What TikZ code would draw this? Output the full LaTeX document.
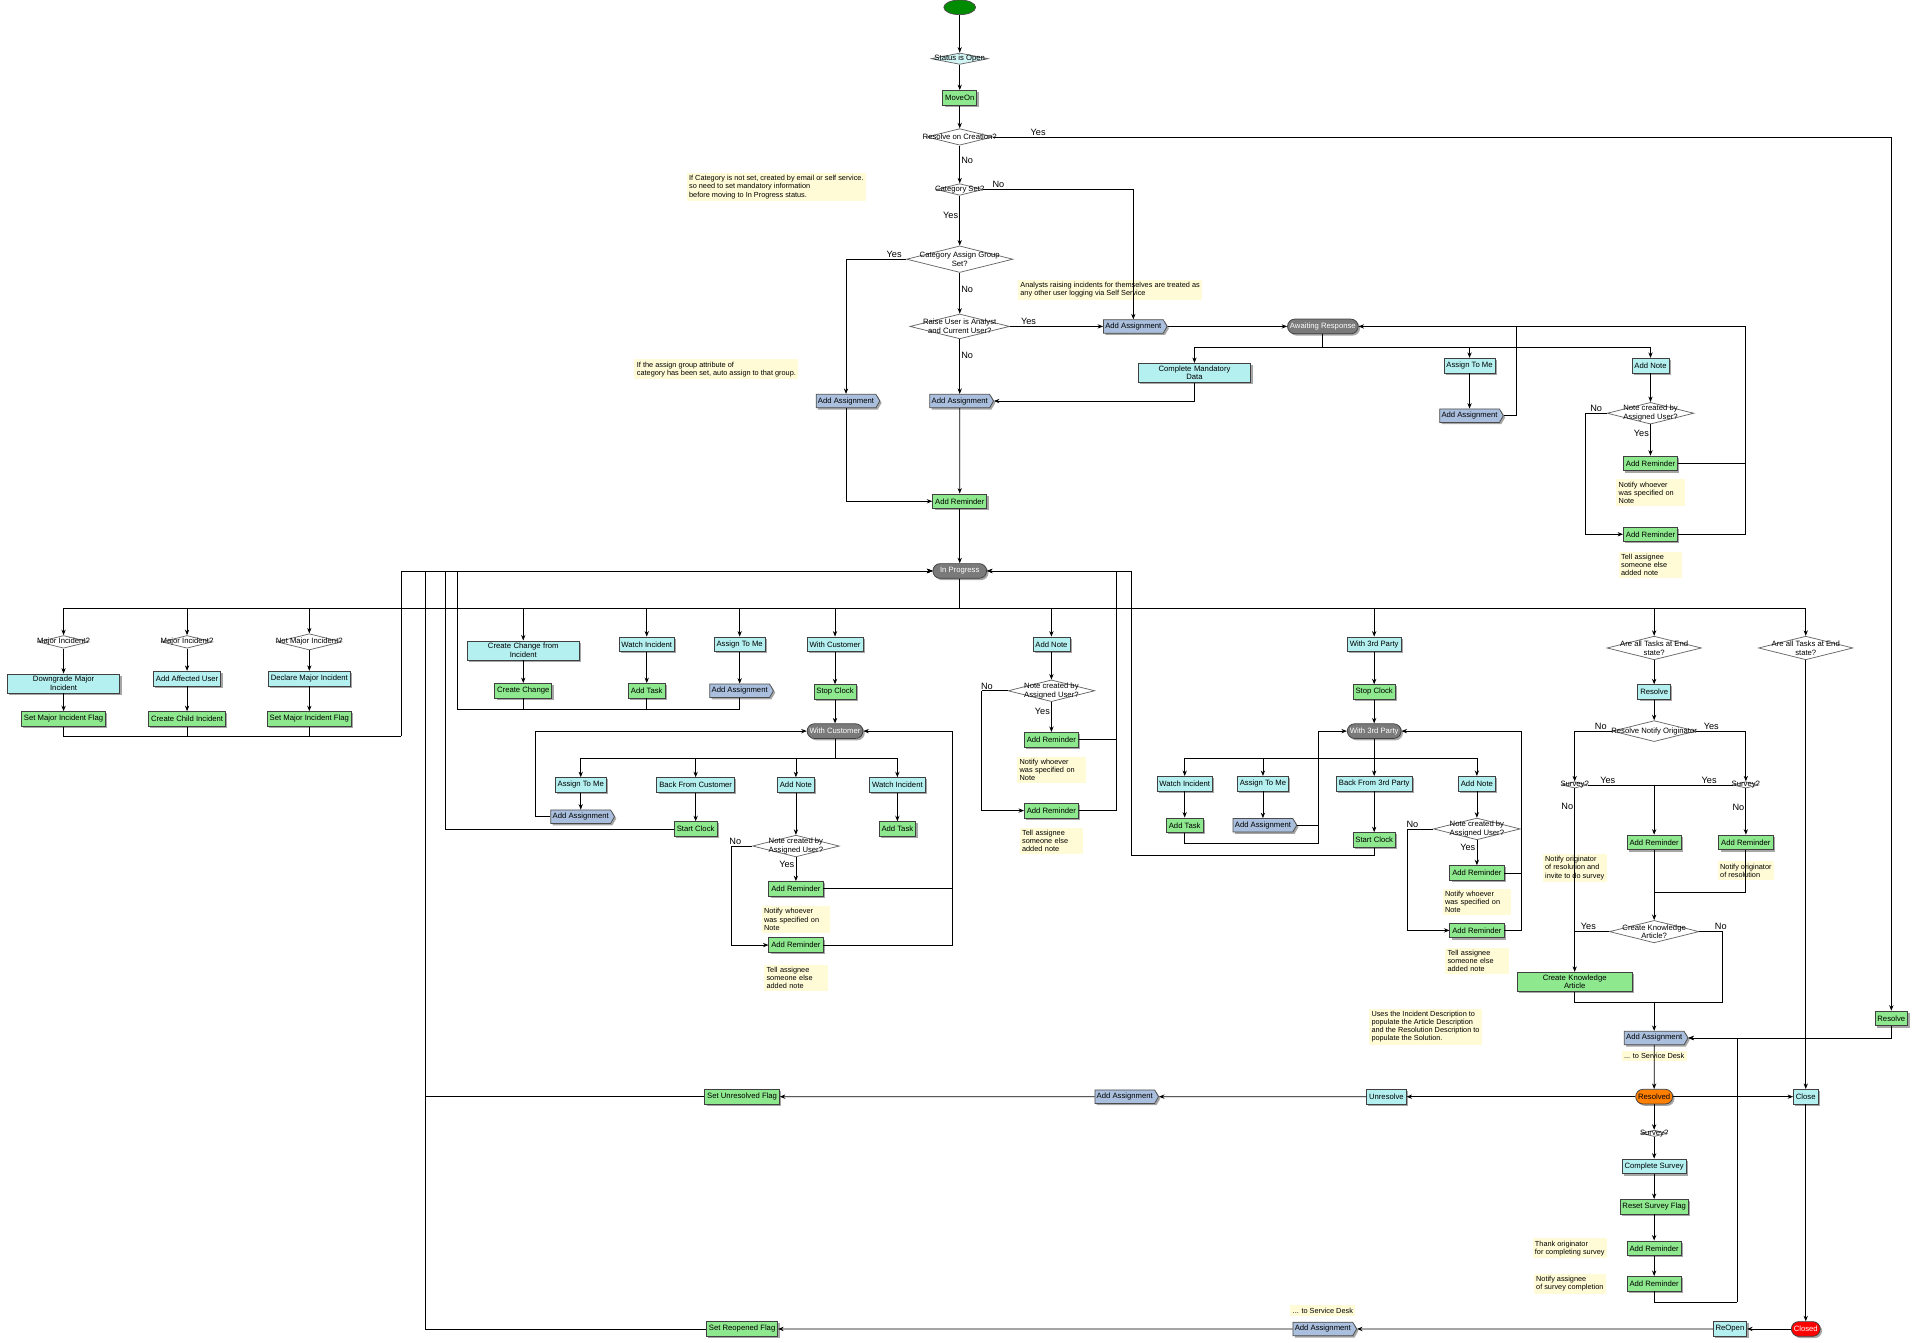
\documentclass[tikz,border=0pt]{standalone}
\usepackage{fontspec}
\setmainfont{Liberation Sans}
\usetikzlibrary{shapes.geometric,shapes.symbols,arrows.meta,shadows}
\definecolor{gfill}{HTML}{8EE88E}
\definecolor{cfill}{HTML}{B4F0F0}
\definecolor{nfill}{HTML}{FFFBD6}
\definecolor{afill}{HTML}{A9BFDD}
\definecolor{sfill}{HTML}{7A7A7A}
\begin{document}
\begin{tikzpicture}[x=1pt,y=-1pt,font=\fontsize{6.3}{7}\selectfont,
  >={Stealth[length=4.5pt,width=3.5pt]}, line width=0.6pt,
  box/.style={draw=black!75,minimum height=12,inner sep=2pt,align=center,
    drop shadow={shadow xshift=1.5pt,shadow yshift=-1.5pt,opacity=.35,fill=black}},
  g/.style={box,fill=gfill},
  c/.style={box,fill=cfill},
  st/.style={box,rounded corners=6,fill=sfill,text=white,minimum width=44},
  dec/.style={diamond,aspect=4,draw=black!60,fill=white,inner sep=-2.5pt,align=center},
  aa/.style={signal,signal to=east,signal pointer angle=120,draw=black!70,fill=afill,inner sep=1.5pt,minimum height=11,
    drop shadow={shadow xshift=1.5pt,shadow yshift=-1.5pt,opacity=.35,fill=black}},
  nt/.style={fill=nfill,inner sep=2pt,align=left,font=\fontsize{6}{6.6}\selectfont},
  lb/.style={font=\fontsize{7.5}{8}\selectfont,inner sep=1pt}]
\useasboundingbox (0,0) rectangle (1568,1098);

% ---------- top ----------
\node[draw=black!70,fill=green!55!black,ellipse,minimum width=26,minimum height=12] (start) at (785,6) {};
\node[diamond,aspect=5,draw=black!60,fill=cfill!60,inner sep=-2pt] (open) at (785,48) {Status is Open};
\node[g] (moveon) at (785,80) {MoveOn};
\node[dec] (rc) at (785,112) {Resolve on Creation?};
\node[dec] (cs) at (785,155) {Category Set?};
\node[dec] (cg) at (785,212) {Category Assign Group\\Set?};
\node[dec] (ru) at (785,267) {Raise User is Analyst\\and Current User?};
\node[aa] (aa1) at (927,267) {Add Assignment};
\node[st] (await) at (1082,267) {Awaiting Response};
\node[c,text width=88] (cmd) at (977,305) {Complete Mandatory\\Data};
\node[aa] (aa2) at (785,328) {Add Assignment};
\node[aa] (aa3) at (692,328) {Add Assignment};
\node[g] (ar0) at (785,410) {Add Reminder};
\node[st] (inprog) at (785,467) {In Progress};

\node[nt] (nA) at (635,153) {If Category is not set, created by email or self service.\\so need to set mandatory information\\before moving to In Progress status.};
\node[nt] (nB) at (908,237) {Analysts raising incidents for themselves are treated as\\any other user logging via Self Service};
\node[nt] (nC) at (586,302) {If the assign group attribute of\\category has been set, auto assign to that group.};

\node[c] (atm1) at (1202,299) {Assign To Me};
\node[aa] (aa4) at (1202,340) {Add Assignment};
\node[c] (an1) at (1350,299) {Add Note};
\node[dec] (dn1) at (1350,338) {Note created by\\Assigned User?};
\node[g] (r1a) at (1350,379) {Add Reminder};
\node[nt,text width=52] (n1a) at (1350,403) {Notify whoever was specified on Note};
\node[g] (r1b) at (1350,437) {Add Reminder};
\node[nt,text width=48] (n1b) at (1350,462) {Tell assignee someone else added note};

\coordinate (ab) at (1082,284);
\coordinate (rr) at (1428,267);
\coordinate (r4t) at (1240,267);
\coordinate (nl1) at (1297,338);

\draw[->] (start) -- (open);
\draw[->] (open) -- (moveon);
\draw[->] (moveon) -- (rc);
\draw[->] (rc) -- node[lb,right,pos=.4]{No} (cs);
\draw[->] (cs) -- node[lb,left,pos=.4]{Yes} (cg);
\draw[->] (cs.east) -| node[lb,pos=.05,above]{No} (aa1.north);
\draw[->] (cg) -- node[lb,right,pos=.4]{No} (ru);
\draw[->] (cg.west) -| node[lb,pos=.1,above]{Yes} (aa3.north);
\draw[->] (ru.east) -- node[lb,pos=.2,above]{Yes} (aa1);
\draw[->] (aa1) -- (await);
\draw[->] (ru) -- node[lb,right,pos=.3]{No} (aa2);
\draw[->] (aa2) -- (ar0);
\draw[->] (aa3.south) |- (ar0.west);
\draw[->] (ar0) -- (inprog);
\draw (await) -- (ab);
\draw[->] (ab) -| (cmd.north);
\draw[->] (ab) -| (atm1.north);
\draw[->] (ab) -| (an1.north);
\draw[->] (cmd.south) |- (aa2.east);
\draw[->] (atm1) -- (aa4);
\draw (aa4.east) -| (r4t);
\draw[->] (an1) -- (dn1);
\draw[->] (dn1) -- node[lb,left,pos=.3]{Yes} (r1a);
\draw (dn1.west) -- node[lb,above]{No} (nl1);
\draw[->] (nl1) |- (r1b.west);
\draw (r1a.east) -| (rr);
\draw (r1b.east) -| (rr);
\draw[->] (rr) -- (await.east);

% ---------- In Progress bus ----------
\coordinate (ib) at (785,498);
\draw (inprog) -- (ib);
\draw (52,498) -- (1477,498);

\node[dec] (mj1) at (52,525) {Major Incident?};
\node[c,text width=88] (dmi) at (52,559) {Downgrade Major\\Incident};
\node[g] (smf1) at (52,588) {Set Major Incident Flag};
\node[dec] (mj2) at (153,525) {Major Incident?};
\node[c] (aau) at (153,555) {Add Affected User};
\node[g] (cci) at (153,588) {Create Child Incident};
\node[dec] (mj3) at (253,525) {Not Major Incident?};
\node[c] (dmj) at (253,555) {Declare Major Incident};
\node[g] (smf3) at (253,588) {Set Major Incident Flag};
\node[c,text width=88] (ccf) at (428,532) {Create Change from\\Incident};
\node[g] (cc) at (428,565) {Create Change};
\node[c] (wi1) at (529,527) {Watch Incident};
\node[g] (at1) at (529,565) {Add Task};
\node[c] (atm2) at (605,527) {Assign To Me};
\node[aa] (aa5) at (605,565) {Add Assignment};
\node[c] (wc) at (683,527) {With Customer};
\node[g] (sc1) at (683,566) {Stop Clock};
\node[st] (wcs) at (683,598) {With Customer};
\node[c] (an2) at (860,527) {Add Note};
\node[dec] (dn2) at (860,565) {Note created by\\Assigned User?};
\node[g] (r2a) at (860,605) {Add Reminder};
\node[nt,text width=52] (n2a) at (860,630) {Notify whoever was specified on Note};
\node[g] (r2b) at (860,663) {Add Reminder};
\node[nt,text width=48] (n2b) at (860,688) {Tell assignee someone else added note};
\node[c] (w3) at (1124,527) {With 3rd Party};
\node[g] (sc2) at (1124,566) {Stop Clock};
\node[st] (w3s) at (1124,598) {With 3rd Party};
\node[dec] (td1) at (1353,530) {Are all Tasks at End\\state?};
\node[c] (res1) at (1353,566) {Resolve};
\node[dec] (rno) at (1353,598) {Resolve Notify Originator};
\node[dec] (sv1) at (1288,642) {Survey?};
\node[dec] (sv2) at (1428,642) {Survey?};
\node[g] (ar5) at (1353,689) {Add Reminder};
\node[g] (ar6) at (1428,689) {Add Reminder};
\node[nt] (n6) at (1428,712) {Notify originator\\of resolution};
\node[nt] (n5) at (1288,710) {Notify originator\\of resolution and\\invite to do survey};
\node[dec] (cka) at (1353,762) {Create Knowledge\\Article?};
\node[g,text width=90] (ckb) at (1288,803) {Create Knowledge\\Article};
\node[aa] (aa6) at (1353,849) {Add Assignment};
\node[nt] (n7) at (1353,864) {... to Service Desk};
\node[box,fill=orange,rounded corners=6] (resolved) at (1353,897) {Resolved};
\node[dec] (td2) at (1477,530) {Are all Tasks at End\\state?};
\node[c] (close) at (1477,897) {Close};
\node[box,fill=red,text=white,rounded corners=6] (closed) at (1477,1087) {Closed};
\node[g] (resR) at (1547,833) {Resolve};
\node[nt] (nk) at (1166,840) {Uses the Incident Description to\\populate the Article Description\\and the Resolution Description to\\populate the Solution.};
\draw[->] (rc.east) -| node[lb,pos=.02,above right]{Yes} (resR.north);

\foreach \n in {mj1,mj2,mj3,ccf,wi1,atm2,wc,an2,w3,td1,td2} \draw[->] (ib) -| (\n.north);
\draw[->] (mj1) -- (dmi); \draw[->] (dmi) -- (smf1);
\draw[->] (mj2) -- (aau); \draw[->] (aau) -- (cci);
\draw[->] (mj3) -- (dmj); \draw[->] (dmj) -- (smf3);
\coordinate (ret1) at (328,602);
\draw (smf1.south) |- (ret1); \draw (cci.south) |- (ret1); \draw (smf3.south) |- (ret1);
\draw[->] (ret1) |- (inprog.west);
\coordinate (ret2) at (374,580);
\draw[->] (ccf) -- (cc); \draw[->] (wi1) -- (at1); \draw[->] (atm2) -- (aa5);
\draw (cc.south) |- (ret2); \draw (at1.south) |- (ret2); \draw (aa5.south) |- (ret2);
\draw[->] (ret2) |- (inprog.west);
\draw[->] (wc) -- (sc1); \draw[->] (sc1) -- (wcs);
\draw[->] (an2) -- (dn2);
\draw[->] (dn2) -- node[lb,left,pos=.3]{Yes} (r2a);
\coordinate (nl2) at (803,565);
\draw (dn2.west) -- node[lb,above,pos=.8]{No} (nl2);
\draw[->] (nl2) |- (r2b.west);
\coordinate (ret3) at (913,467);
\draw (r2a.east) -| (ret3); \draw (r2b.east) -| (ret3);
\draw[->] (ret3) -- (inprog.east);
\draw[->] (w3) -- (sc2); \draw[->] (sc2) -- (w3s);

% ---------- With Customer ----------
\coordinate (wb) at (683,620);
\draw (wcs) -- (wb);
\draw (475,620) -- (734,620);
\node[c] (atm3) at (475,642) {Assign To Me};
\node[aa] (aa7) at (475,668) {Add Assignment};
\node[c] (bfc) at (569,642) {Back From Customer};
\node[g] (scl) at (569,678) {Start Clock};
\node[c] (an3) at (651,642) {Add Note};
\node[dec] (dn3) at (651,692) {Note created by\\Assigned User?};
\node[g] (r3a) at (651,727) {Add Reminder};
\node[nt,text width=52] (n3a) at (651,752) {Notify whoever was specified on Note};
\node[g] (r3b) at (651,773) {Add Reminder};
\node[nt,text width=48] (n3b) at (651,800) {Tell assignee someone else added note};
\node[c] (wi2) at (734,642) {Watch Incident};
\node[g] (at2) at (734,678) {Add Task};
\foreach \n in {atm3,bfc,an3,wi2} \draw[->] (wb) -| (\n.north);
\draw[->] (atm3) -- (aa7); \draw[->] (bfc) -- (scl); \draw[->] (an3) -- (dn3); \draw[->] (wi2) -- (at2);
\coordinate (wl) at (438,668);
\draw (aa7.west) -- (wl); \draw[->] (wl) |- (wcs.west);
\coordinate (ret4) at (364,678);
\draw (scl.west) -- (ret4); \draw[->] (ret4) |- (inprog.west);
\draw[->] (dn3) -- node[lb,left,pos=.3]{Yes} (r3a);
\coordinate (nl3) at (598,692);
\draw (dn3.west) -- node[lb,above,pos=.8]{No} (nl3);
\draw[->] (nl3) |- (r3b.west);
\coordinate (wr) at (779,598);
\draw (r3a.east) -| (wr); \draw (r3b.east) -| (wr);
\draw[->] (wr) -- (wcs.east);

% ---------- With 3rd Party ----------
\coordinate (tb) at (1124,620);
\draw (w3s) -- (tb);
\draw (969,620) -- (1208,620);
\node[c] (wi3) at (969,641) {Watch Incident};
\node[g] (at3) at (969,675) {Add Task};
\node[c] (atm4) at (1033,641) {Assign To Me};
\node[aa] (aa8) at (1033,675) {Add Assignment};
\node[c] (bf3) at (1124,641) {Back From 3rd Party};
\node[g] (scl2) at (1124,687) {Start Clock};
\node[c] (an4) at (1208,641) {Add Note};
\node[dec] (dn4) at (1208,678) {Note created by\\Assigned User?};
\node[g] (r4a) at (1208,714) {Add Reminder};
\node[nt,text width=52] (n4a) at (1208,738) {Notify whoever was specified on Note};
\node[g] (r4b) at (1208,761) {Add Reminder};
\node[nt,text width=48] (n4b) at (1208,786) {Tell assignee someone else added note};
\foreach \n in {wi3,atm4,bf3,an4} \draw[->] (tb) -| (\n.north);
\draw[->] (wi3) -- (at3); \draw[->] (atm4) -- (aa8); \draw[->] (bf3) -- (scl2); \draw[->] (an4) -- (dn4);
\coordinate (r3c) at (1078,690);
\draw (at3.south) |- (r3c); \draw (aa8.east) -| (r3c);
\draw[->] (r3c) |- (w3s.west);
\coordinate (r5) at (925,700);
\draw (scl2.south) |- (r5); \draw[->] (r5) |- (inprog.east);
\draw[->] (dn4) -- node[lb,left,pos=.3]{Yes} (r4a);
\coordinate (nl4) at (1151,678);
\draw (dn4.west) -- node[lb,above,pos=.8]{No} (nl4);
\draw[->] (nl4) |- (r4b.west);
\coordinate (tr) at (1244,598);
\draw (r4a.east) -| (tr); \draw (r4b.east) -| (tr);
\draw[->] (tr) -- (w3s.east);

% ---------- Resolve branch ----------
\draw[->] (td1) -- (res1);
\draw[->] (res1) -- (rno);
\draw[->] (rno.west) -| node[lb,pos=.15,above]{No} (sv1.north);
\draw[->] (rno.east) -| node[lb,pos=.15,above]{Yes} (sv2.north);
\coordinate (svm) at (1353,642);
\draw (sv1.east) -- node[lb,above,pos=.3]{Yes} (svm);
\draw (sv2.west) -- node[lb,above,pos=.3]{Yes} (svm);
\draw[->] (svm) -- (ar5);
\draw[->] (sv2) -- node[lb,left,pos=.4]{No} (ar6);
\draw[->] (sv1) -- node[lb,left,pos=.1]{No} (ckb);
\draw[->] (ar5) -- (cka);
\coordinate (c6) at (1353,730);
\draw (ar6.south) |- (c6);
\coordinate (cy) at (1288,762);
\draw (cka.west) -- node[lb,above,pos=.6]{Yes} (cy);
\coordinate (cn) at (1409,762);
\draw (cka.east) -- node[lb,above right,pos=.6]{No} (cn);
\coordinate (j6) at (1353,820);
\draw (cn) |- (j6);
\draw (ckb.south) |- (j6);
\draw[->] (j6) -- (aa6);
\draw[->] (resR.south) |- (aa6.east);
\draw[->] (aa6) -- (resolved);
\draw[->] (td2) -- (close);
\draw[->] (resolved) -- (close);
\draw[->] (close) -- (closed);

% ---------- Resolved row ----------
\node[c] (unres) at (1134,897) {Unresolve};
\node[aa] (aa9) at (920,897) {Add Assignment};
\node[g] (suf) at (607,897) {Set Unresolved Flag};
\draw[->] (resolved) -- (unres);
\draw[->] (unres) -- (aa9);
\draw[->] (aa9) -- (suf);
\coordinate (r6) at (348,897);
\draw (suf.west) -- (r6); \draw[->] (r6) |- (inprog.west);

\node[dec] (sv) at (1353,927) {Survey?};
\node[c] (csv) at (1353,954) {Complete Survey};
\node[g] (rsf) at (1353,987) {Reset Survey Flag};
\node[g] (ar7) at (1353,1021) {Add Reminder};
\node[nt] (nt7) at (1284,1021) {Thank originator\\for completing survey};
\node[g] (ar8) at (1353,1050) {Add Reminder};
\node[nt] (nt8) at (1284,1050) {Notify assignee\\of survey completion};
\draw[->] (resolved) -- (sv);
\draw[->] (sv) -- (csv);
\draw[->] (csv) -- (rsf);
\draw[->] (rsf) -- (ar7);
\draw[->] (ar7) -- (ar8);
\coordinate (r7) at (1421,1065);
\draw (ar8.south) |- (r7);
\draw[->] (r7) |- (aa6.east);

% ---------- Closed row ----------
\node[c] (reopen) at (1415,1087) {ReOpen};
\node[aa] (aa10) at (1082,1087) {Add Assignment};
\node[nt] (nt10) at (1082,1072) {... to Service Desk};
\node[g] (srf) at (607,1087) {Set Reopened Flag};
\draw[->] (closed) -- (reopen);
\draw[->] (reopen) -- (aa10);
\draw[->] (aa10) -- (srf);
\coordinate (r8) at (348,1087);
\draw (srf.west) -- (r8); \draw[->] (r8) |- (inprog.west);
\end{tikzpicture}
\end{document}
